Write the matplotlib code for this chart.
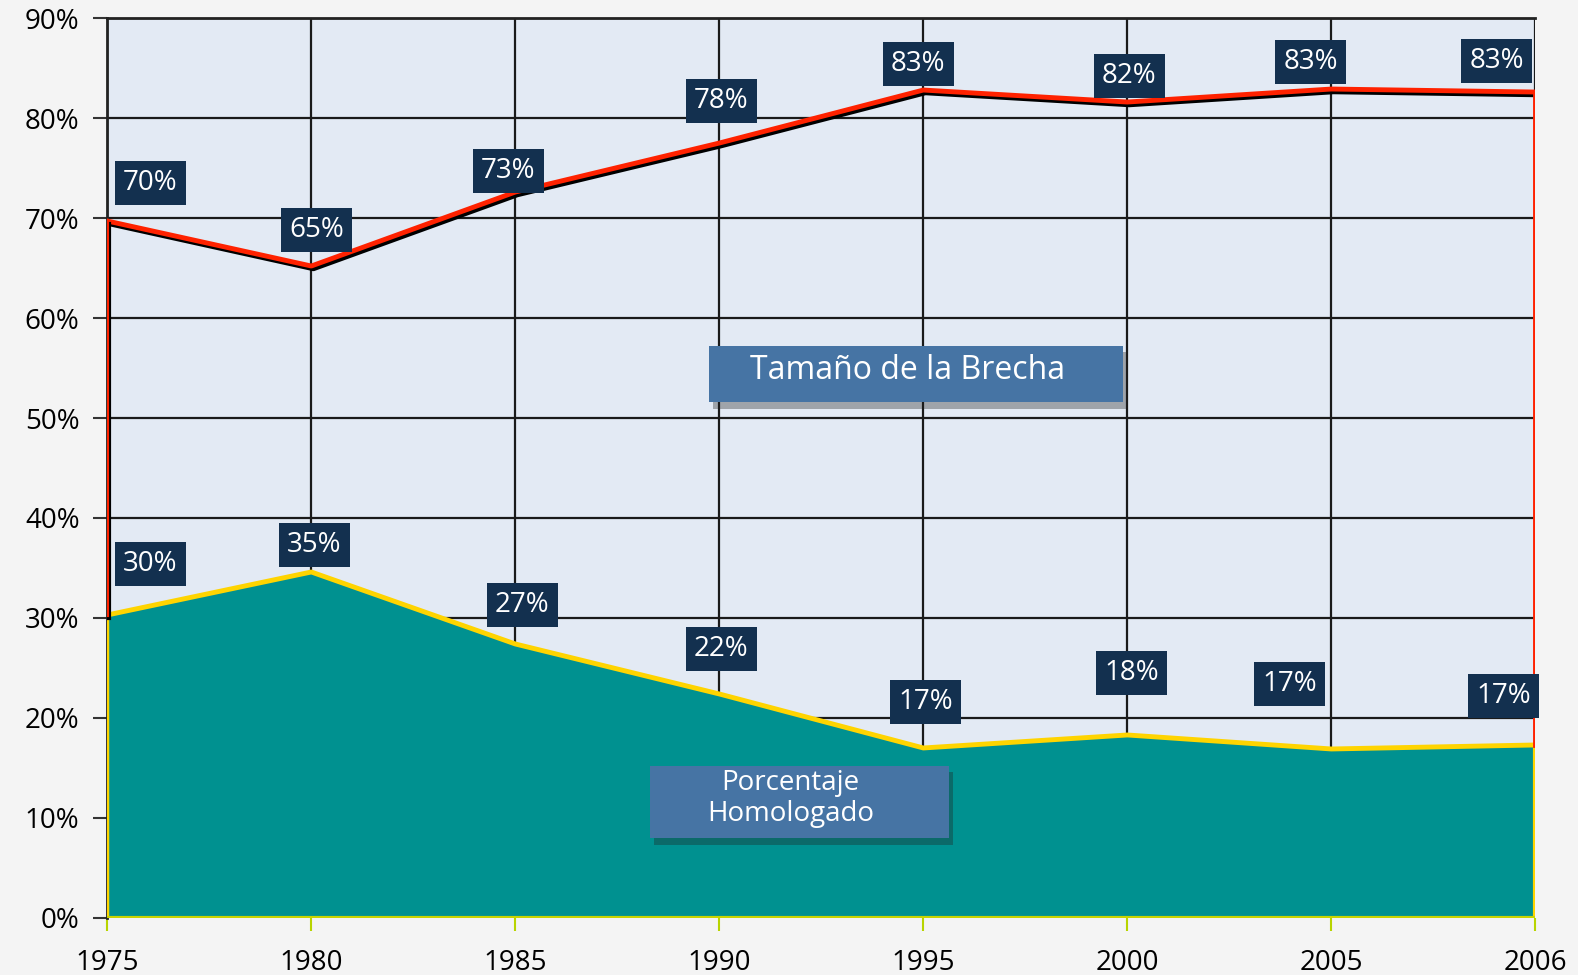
import matplotlib.pyplot as plt
import matplotlib.patheffects as pe
from matplotlib.patches import FancyBboxPatch

years = ["1975", "1980", "1985", "1990", "1995", "2000", "2005", "2006"]
brecha = [69.7, 65.2, 72.6, 77.5, 82.8, 81.6, 82.9, 82.6]       # Tamaño de la Brecha
homologado = [30.3, 34.6, 27.4, 22.4, 17.0, 18.3, 16.9, 17.3]   # Porcentaje Homologado
brecha_lbl = ["70%", "65%", "73%", "78%", "83%", "82%", "83%", "83%"]
homol_lbl = ["30%", "35%", "27%", "22%", "17%", "18%", "17%", "17%"]

# label box offsets in pixels (layout only)
brecha_off = [(43, 38), (5, 36), (-7, 21), (2, 42), (-5, 26), (2, 26), (-21, 27), (-39, 31)]
homol_off = [(43, 51), (3, 27), (7, 39), (2, 45), (2, 46), (4, 62), (-42, 65), (-32, 49)]

plt.rcParams["font.family"] = ["Open Sans", "DejaVu Sans"]

fig = plt.figure(figsize=(15.78, 9.75), dpi=100, facecolor="#f4f4f4")
ax = fig.add_axes([0.068, 0.0585, 0.905, 0.923])
ax.set_facecolor("#e3eaf4")

x = list(range(len(years)))

# teal area
ax.fill_between(x, 0, homologado, facecolor="#009190", edgecolor="none", zorder=2)
ax.plot(x, homologado, color="#ffd400", lw=3.5, zorder=3)
ax.plot([0, 0], [0, homologado[0]], color="#ffd400", lw=2.5, zorder=3)
ax.plot([7, 7], [0, homologado[-1]], color="#ffd400", lw=3, zorder=3)
ax.plot([0, 7], [0, 0], color="#c8d400", lw=3, zorder=3)

# gap outline
shadow = [pe.SimpleLineShadow(offset=(1.5, -2), shadow_color="black", alpha=1), pe.Normal()]
ax.plot(x, brecha, color="#ff2200", lw=3.5, zorder=4, path_effects=shadow)
ax.plot([0, 0], [homologado[0], brecha[0]], color="#ff2200", lw=3, zorder=4, path_effects=shadow)
ax.plot([7, 7], [homologado[-1], brecha[-1]], color="#ff2200", lw=3.5, zorder=4)

box = dict(boxstyle="square,pad=0.3", facecolor="#13304f", edgecolor="none")
for i in x:
    ax.annotate(brecha_lbl[i], (i, brecha[i]), xytext=brecha_off[i], textcoords="offset pixels",
                ha="center", va="center", fontsize=20, color="white", bbox=box, zorder=6)
    ax.annotate(homol_lbl[i], (i, homologado[i]), xytext=homol_off[i], textcoords="offset pixels",
                ha="center", va="center", fontsize=20, color="white", bbox=box, zorder=6)

# series name boxes
for (bx, by, bw, bh, fs, txt) in [(0.4214, 0.573, 0.2896, 0.0626, 23, "Tamaño de la Brecha"),
                                  (0.3798, 0.0883, 0.2093, 0.0804, 20, "Porcentaje\nHomologado")]:
    ax.add_patch(FancyBboxPatch((bx + 0.003, by - 0.007), bw, bh, boxstyle="square,pad=0",
                                transform=ax.transAxes, facecolor="#222222", alpha=0.35,
                                edgecolor="none", zorder=6))
    ax.add_patch(FancyBboxPatch((bx, by), bw, bh, boxstyle="square,pad=0",
                                transform=ax.transAxes, facecolor="#4674a4",
                                edgecolor="none", zorder=7))
    ax.text(bx + bw / 2 - 0.006, by + bh / 2 + 0.004, txt, transform=ax.transAxes, ha="center",
            va="center", fontsize=fs, color="white", linespacing=1.15, zorder=8)

ax.set_xlim(0, 7)
ax.set_ylim(0, 90)
ax.set_xticks(x)
ax.set_xticklabels(years)
ax.set_yticks(range(0, 91, 10))
ax.set_yticklabels([f"{v}%" for v in range(0, 91, 10)])
ax.grid(True, color="#1a1a1a", lw=1.6)
ax.set_axisbelow(True)
ax.tick_params(axis="y", length=10, width=1.5, color="#333333", labelsize=20, pad=10)
ax.tick_params(axis="x", length=9, width=1.5, color="#b8d400", labelsize=20, pad=13)
for s in ["top", "left"]:
    ax.spines[s].set_color("#222222")
    ax.spines[s].set_linewidth(2)
ax.spines["right"].set_visible(False)
ax.spines["bottom"].set_visible(False)

plt.savefig("out.png", dpi=100, facecolor=fig.get_facecolor())
